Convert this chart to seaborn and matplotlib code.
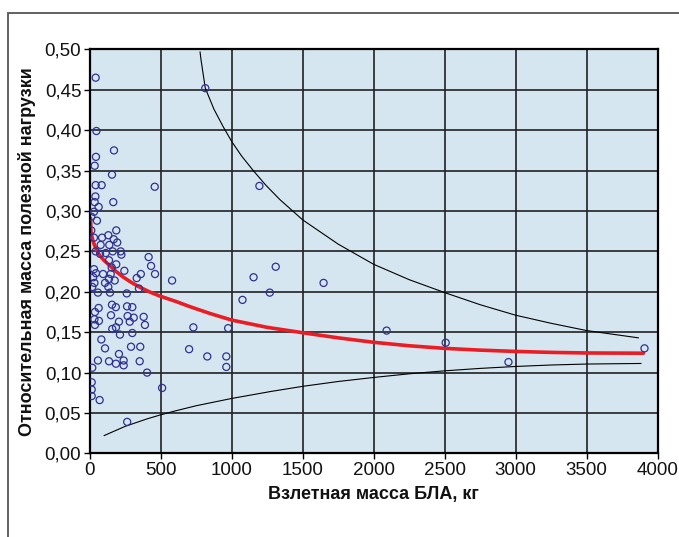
import matplotlib
matplotlib.use("Agg")
import matplotlib.pyplot as plt
import seaborn as sns
import pandas as pd
from matplotlib.patches import Rectangle

# ---- data ----
mass = [42, 814, 47, 171, 44, 35, 157, 42, 84, 458, 1195, 40, 35, 166, 63, 30, 11, 51, 11, 187,
        131, 30, 87, 169, 194, 77, 138, 42, 113, 162, 218, 223, 73, 136, 415, 187, 432, 30, 155, 244,
        44, 94, 148, 460, 360, 25, 331, 580, 136, 176, 33, 108, 58, 143, 261, 347, 131, 18, 37, 63,
        157, 184, 263, 300, 33, 65, 37, 150, 267, 310, 380, 206, 282, 389, 159, 185, 213, 300, 82, 108,
        206, 291, 356, 58, 136, 185, 239, 239, 352, 18, 404, 14, 14, 14, 70, 510, 264, 1154, 1310, 1268,
        1076, 730, 975, 700, 828, 962, 962, 1647, 2091, 2507, 2949, 3907]
payload = [0.465, 0.452, 0.399, 0.375, 0.367, 0.356, 0.345, 0.332, 0.332, 0.330, 0.331, 0.318, 0.311, 0.311, 0.305, 0.299, 0.293, 0.288, 0.276, 0.276,
           0.270, 0.267, 0.267, 0.265, 0.261, 0.258, 0.258, 0.250, 0.248, 0.250, 0.250, 0.246, 0.247, 0.239, 0.243, 0.234, 0.232, 0.228, 0.230, 0.226,
           0.223, 0.222, 0.222, 0.222, 0.222, 0.218, 0.217, 0.214, 0.216, 0.214, 0.211, 0.211, 0.199, 0.199, 0.198, 0.204, 0.206, 0.206, 0.175, 0.180,
           0.184, 0.181, 0.182, 0.181, 0.166, 0.164, 0.159, 0.171, 0.170, 0.168, 0.169, 0.163, 0.163, 0.159, 0.154, 0.156, 0.147, 0.149, 0.141, 0.130,
           0.123, 0.132, 0.132, 0.115, 0.114, 0.111, 0.115, 0.109, 0.114, 0.106, 0.100, 0.088, 0.079, 0.071, 0.066, 0.081, 0.039, 0.218, 0.231, 0.199,
           0.190, 0.156, 0.155, 0.129, 0.120, 0.120, 0.107, 0.211, 0.152, 0.137, 0.113, 0.130]

trend_x = [6, 9, 20, 33, 50, 68, 100, 138, 180, 232, 290, 349, 420, 490, 608, 706, 850, 1000, 1250, 1551, 1750,
           2000, 2250, 2500, 2750, 3000, 3250, 3500, 3900]
trend_y = [0.291, 0.274, 0.265, 0.258, 0.251, 0.2455, 0.239, 0.233, 0.226, 0.2187, 0.212, 0.206, 0.2, 0.195, 0.188,
           0.1816, 0.173, 0.165, 0.156, 0.148, 0.143, 0.1375, 0.1332, 0.130, 0.1278, 0.1262, 0.125, 0.1243, 0.124]

upper_x = [777, 784, 814, 875, 941, 1000, 1070, 1152, 1240, 1340, 1500, 1750, 2000, 2250, 2500, 2750, 3000, 3250, 3500, 3865]
upper_y = [0.497, 0.487, 0.452, 0.426, 0.404, 0.386, 0.368, 0.350, 0.332, 0.314, 0.289, 0.259, 0.234, 0.215, 0.199,
           0.184, 0.171, 0.161, 0.152, 0.143]

lower_x = [101, 250, 400, 495, 601, 750, 1000, 1271, 1500, 1750, 2000, 2250, 2500, 2750, 3000, 3250, 3500, 3883]
lower_y = [0.022, 0.0335, 0.0425, 0.0475, 0.0525, 0.059, 0.068, 0.0765, 0.083, 0.089, 0.094, 0.0985, 0.1022, 0.1052,
           0.1076, 0.1094, 0.1106, 0.1113]

x_ticks = [0, 500, 1000, 1500, 2000, 2500, 3000, 3500, 4000]
y_ticks = [0.00, 0.05, 0.10, 0.15, 0.20, 0.25, 0.30, 0.35, 0.40, 0.45, 0.50]
x_label = "Взлетная масса БЛА, кг"
y_label = "Относительная масса полезной нагрузки"

sns.set_theme(style="white")
plt.rcParams['font.family'] = ['Liberation Sans', 'DejaVu Sans']

fig = plt.figure(figsize=(6.79, 5.37), dpi=100)
fig.patch.set_facecolor('white')
# outer frame
fig.patches.append(Rectangle((8 / 679, -0.1), 1.2, 1 - 13 / 537 + 0.1, transform=fig.transFigure,
                             fill=False, edgecolor='#555555', linewidth=1.3))

ax = fig.add_axes([89.7 / 679, 1 - 453.4 / 537, 568 / 679, 404 / 537])
ax.set_facecolor('#d5e6f0')

pts = pd.DataFrame({'m': mass, 'p': payload})
sns.lineplot(x=upper_x, y=upper_y, ax=ax, color='black', lw=0.8, sort=False, estimator=None)
sns.lineplot(x=lower_x, y=lower_y, ax=ax, color='black', lw=0.8, sort=False, estimator=None)
sns.lineplot(x=trend_x, y=trend_y, ax=ax, color='#ec1c24', lw=2.6, sort=False, estimator=None)
sns.scatterplot(data=pts, x='m', y='p', ax=ax, marker='o', s=26, facecolor='none',
                edgecolor='#2e3192', linewidth=0.9, zorder=5)

ax.set_xlim(0, 4000)
ax.set_ylim(0, 0.5)
ax.set_xticks(x_ticks)
ax.set_xticklabels([str(v) for v in x_ticks])
ax.set_yticks(y_ticks)
ax.set_yticklabels([f"{v:.2f}".replace('.', ',') for v in y_ticks])
ax.grid(True, color='#222222', lw=1.2)
ax.set_axisbelow(True)
for s in ax.spines.values():
    s.set_color('black')
    s.set_linewidth(1.6)
ax.tick_params(axis='both', which='both', direction='out', length=4, width=1, color='black',
               labelsize=13.5, labelcolor='#111111', pad=2, bottom=True, left=True)
ax.set_xlabel(x_label, fontsize=13, fontweight='bold', labelpad=5, color='#111111')
ax.set_ylabel(y_label, fontsize=13, fontweight='bold', labelpad=6, color='#111111')

fig.savefig('out.png', dpi=100)
